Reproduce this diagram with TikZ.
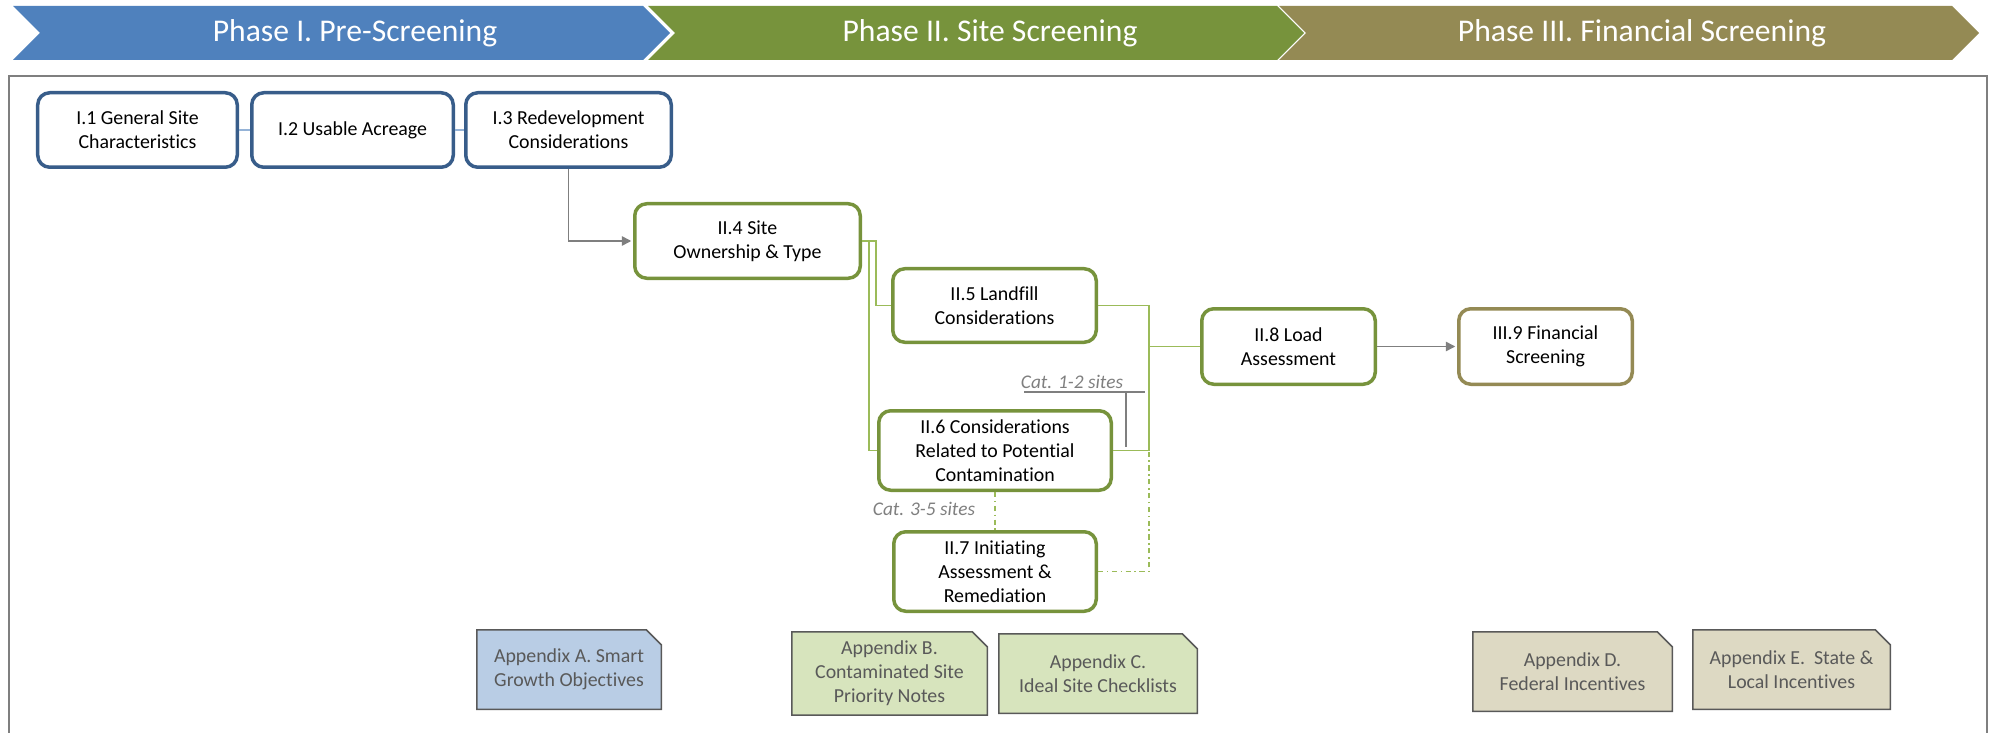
\documentclass[tikz,border=0pt]{standalone}
\usepackage{fontspec}
\setmainfont{Carlito}[Ligatures=NoCommon]
\usetikzlibrary{arrows.meta,positioning,calc,shapes.misc}
\definecolor{phaseone}{HTML}{4F81BD}
\definecolor{phasetwo}{HTML}{77933C}
\definecolor{phasethree}{HTML}{948A54}
\definecolor{boxone}{HTML}{385D8A}
\definecolor{apxone}{HTML}{B9CDE5}
\definecolor{apxtwo}{HTML}{D7E4BD}
\definecolor{apxthree}{HTML}{DDD9C3}
\definecolor{apxline}{HTML}{595959}
\definecolor{linkone}{HTML}{95B3D7}
\definecolor{linktwo}{HTML}{9BBB59}
\definecolor{flow}{HTML}{7F7F7F}

\begin{document}
\begin{tikzpicture}[
  stg/.style={draw, rounded corners=2.4mm, line width=0.7mm, fill=white, align=center, inner sep=1pt, font=\fontsize{11.3}{13.65}\selectfont, minimum height=14.9mm},
  stgone/.style={stg, draw=boxone},
  stgtwo/.style={stg, draw=phasetwo},
  stgthree/.style={stg, draw=phasethree},
  apx/.style={chamfered rectangle, chamfered rectangle corners=north east, chamfered rectangle sep=1.5mm, draw=apxline, line width=0.3mm, align=center, text=apxline, font=\fontsize{11.3}{13.65}\selectfont, minimum height=15.9mm, inner sep=1pt},
  hdr/.style={font=\fontsize{18}{21}\selectfont, text=white},
  cat/.style={font=\fontsize{11}{13}\selectfont\itshape, text=flow},
  link/.style={linktwo, line width=0.3mm},
  optlink/.style={link, dash dot},
  flowarr/.style={flow, line width=0.3mm, ->, shorten >=0.35mm},
  >={Triangle[length=1.9mm,width=1.9mm]}, x=0.2mm, y=-0.2mm]
\useasboundingbox (0,0) rectangle (1993,733);
% phase banners
\fill[phaseone]   (13,6) -- (643,6) -- (670,33) -- (643,60) -- (13,60) -- (40,33) -- cycle;
\fill[phasetwo]   (648,6) -- (1277,6) -- (1304,33) -- (1277,60) -- (648,60) -- (675,33) -- cycle;
\fill[phasethree] (1279,6) -- (1952,6) -- (1979,33) -- (1952,60) -- (1279,60) -- (1306,33) -- cycle;
\node[hdr] (h1) at (355,33)  {Phase I. Pre-Screening};
\node[hdr] (h2) at (990,33)  {Phase II. Site Screening};
\node[hdr] (h3) at (1642,33) {Phase III. Financial Screening};
\draw[flow, line width=0.5mm] (9,76) rectangle (1987,734);
% phase I
\node[stgone, minimum width=39.9mm] (s1) at (137.5,130) {I.1 General Site\\ Characteristics};
\node[stgone, minimum width=40.3mm] (s2) at (352.5,130) {I.2 Usable Acreage};
\node[stgone, minimum width=41.1mm] (s3) at (568.5,130) {I.3 Redevelopment\\ Considerations};
% phase II
\node[stgtwo, minimum width=45.1mm] (s4) at (747.5,241) {II.4 Site\\ Ownership \& Type};
\node[stgtwo, minimum width=40.7mm, minimum height=14.7mm] (s5) at (994.5,305.5) {II.5 Landfill\\ Considerations};
\node[stgtwo, minimum width=46.5mm, minimum height=15.9mm] (s6) at (995,450.5) {II.6 Considerations\\ Related to Potential\\ Contamination};
\node[stgtwo, minimum width=40.5mm, minimum height=15.9mm] (s7) at (995,571.5) {II.7 Initiating\\ Assessment \&\\ Remediation};
\node[stgtwo, minimum width=34.7mm, minimum height=15.1mm] (s8) at (1288.5,346.5) {II.8 Load\\ Assessment};
% phase III
\node[stgthree, minimum width=34.7mm, minimum height=15.1mm] (s9) at (1545.5,346.5) {III.9 Financial\\ Screening};
% appendices
\node[apx, fill=apxone, minimum width=36.9mm]   (apa) at (569,669.5)    {Appendix A. Smart\\ Growth Objectives};
\node[apx, fill=apxtwo, minimum width=39.1mm]   (apb) at (889.5,673.5)  {Appendix B.\\ Contaminated Site\\ Priority Notes};
\node[apx, fill=apxtwo, minimum width=39.7mm]   (apc) at (1098,673.5)   {Appendix C.\\ Ideal Site Checklists};
\node[apx, fill=apxthree, minimum width=39.9mm] (apd) at (1572.5,671.5) {Appendix D.\\ Federal Incentives};
\node[apx, fill=apxthree, minimum width=39.5mm] (ape) at (1791.5,669.5) {Appendix E.\ \ State \&\\ Local Incentives};
% edges
\draw[linkone, line width=0.4mm] (s1.east) -- (s2.west);
\draw[linkone, line width=0.4mm] (s2.east) -- (s3.west);
\draw[flowarr] (s3.south) |- (s4.west);
\draw[link] (s4.east) -- ++(14,0) |- (s5.west);
\draw[link] (s4.east) -- ++(7,0) |- (s6.west);
\coordinate (mrg) at (1149,346.5);
\draw[link] (s5.east) -| (mrg) -- (s8.west);
\draw[link] (s6.east) -| (mrg);
\draw[optlink] (s6.south) -- (s7.north);
\draw[optlink] (s7.east) -| (mrg);
\draw[flowarr] (s8.east) -- (s9.west);
% category labels
\node[cat] (cat12) at (1072,382) {Cat. 1-2 sites};
\node[cat] (cat35) at (924,509) {Cat. 3-5 sites};
\coordinate (c12l) at (1024,392);
\coordinate (c12r) at (1145,392);
\coordinate (c12d) at (1126,447);
\draw[flow, line width=0.3mm] (c12l) -- (c12r) (c12d |- c12l) -- (c12d);
\end{tikzpicture}
\end{document}
